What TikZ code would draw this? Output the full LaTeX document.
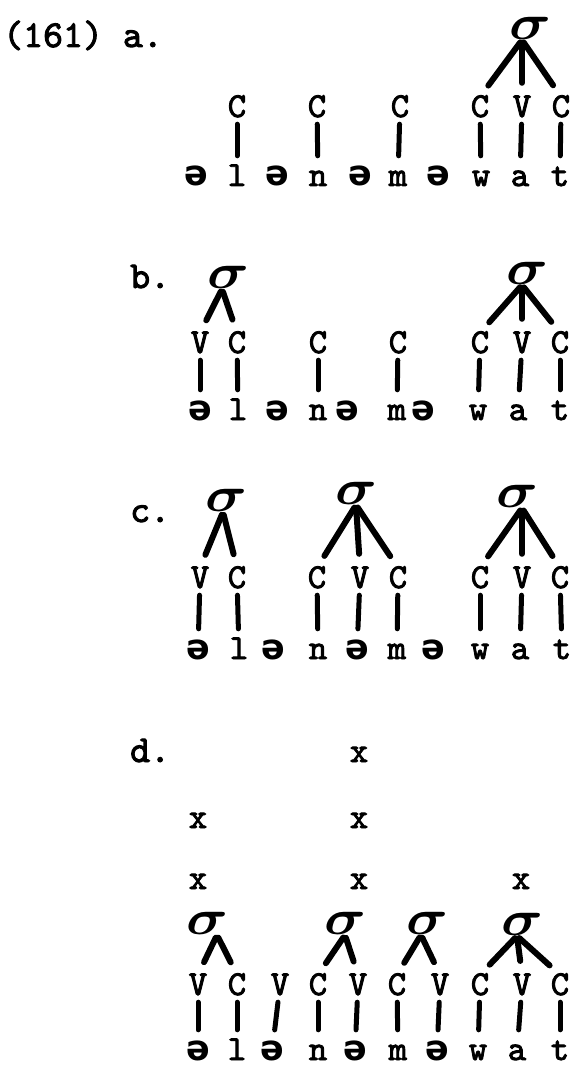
\documentclass[tikz,border=0pt]{standalone}
\usepackage{amsmath}
\usepackage{fontspec}
\usepackage{graphicx}
\newfontfamily\djfont{DejaVu Sans}
\newfontfamily\twfont{lmmono10-regular.otf}[FakeBold=2.5]
\newcommand\mysig{\scalebox{5.8}[5]{$\boldsymbol{\sigma}$}}
\tikzset{
  lab/.style={font=\twfont\bfseries\fontsize{38}{38}\selectfont, inner sep=0pt, anchor=base west},
  cv/.style={font=\twfont\bfseries\fontsize{35}{35}\selectfont, inner sep=0pt, anchor=base, text height=20pt, text depth=0pt},
  sg/.style={font=\twfont\bfseries\fontsize{35}{35}\selectfont, inner sep=0pt, anchor=base, text height=15pt, text depth=0pt},
  schwa/.style={sg, font=\djfont\bfseries\fontsize{35}{35}\selectfont},
  sig/.style={inner sep=0pt, anchor=south},
  tie/.style={line width=5pt, line cap=round, shorten <=7pt, shorten >=15pt},
  br/.style={line width=6pt, line cap=round, shorten <=3pt, shorten >=14pt}
}
\begin{document}
\begin{tikzpicture}[x=1pt,y=-1pt]
\useasboundingbox (0,0) rectangle (571,1067);
% labels
\node[lab] (la) at (3,47) {(161) a.};
\node[lab] (lb) at (130,288) {b.};
\node[lab] (lc) at (130,522) {c.};
\node[lab] (ld) at (130,762) {d.};
% ---------- panel a
\foreach \n/\x/\t in {a1/237/C,a2/317/C,a3/400/C,a4/480/C,a5/522/V,a6/561/C}
  \node[cv] (\n) at (\x,117) {\t};
\node[schwa] (aA) at (196,186) {ə};
\node[sg] (aB) at (237,186) {l};
\node[schwa] (aC) at (277,186) {ə};
\node[sg] (aD) at (318,186) {n};
\node[schwa] (aE) at (360,186) {ə};
\node[sg] (aF) at (398,186) {m};
\node[schwa] (aG) at (438,186) {ə};
\node[sg] (aH) at (481,186) {w};
\node[sg] (aI) at (520,186) {a};
\node[sg] (aJ) at (560,186) {t};
\foreach \u/\v in {a1/aB,a2/aD,a3/aF,a4/aH,a5/aI,a6/aJ}
  \draw[tie] (\u) -- (\v);
\node[sig] (sa) at (530,40) {\mysig};
\foreach \v in {a4,a5,a6} \draw[br] ([xshift=-8pt]sa.south) -- (\v.north);
% ---------- panel b
\foreach \n/\x/\t in {b1/200/V,b2/237/C,b3/318/C,b4/398/C,b5/480/C,b6/522/V,b7/560/C}
  \node[cv] (\n) at (\x,353) {\t};
\node[schwa] (bA) at (200,420) {ə};
\node[sg] (bB) at (238,420) {l};
\node[schwa] (bC) at (277,420) {ə};
\node[sg] (bD) at (318,420) {n};
\node[schwa] (bE) at (347,420) {ə};
\node[sg] (bF) at (397,420) {m};
\node[schwa] (bG) at (423,420) {ə};
\node[sg] (bH) at (478,420) {w};
\node[sg] (bI) at (518,420) {a};
\node[sg] (bJ) at (560,420) {t};
\foreach \u/\v in {b1/bA,b2/bB,b3/bD,b4/bF,b5/bH,b6/bI,b7/bJ}
  \draw[tie] (\u) -- (\v);
\node[sig] (sb1) at (228,289) {\mysig};
\node[sig] (sb2) at (527,285) {\mysig};
\foreach \v in {b1,b2} \draw[br] ([xshift=-6pt]sb1.south) -- (\v.north);
\foreach \v in {b5,b6,b7} \draw[br] ([xshift=-5pt]sb2.south) -- (\v.north);
% ---------- panel c
\foreach \n/\x/\t in {c1/200/V,c2/237/C,c3/317/C,c4/360/V,c5/398/C,c6/480/C,c7/522/V,c8/560/C}
  \node[cv] (\n) at (\x,588) {\t};
\node[schwa] (cA) at (198,659) {ə};
\node[sg] (cB) at (239,659) {l};
\node[schwa] (cC) at (273,659) {ə};
\node[sg] (cD) at (318,659) {n};
\node[schwa] (cE) at (357,659) {ə};
\node[sg] (cF) at (397,659) {m};
\node[schwa] (cG) at (433,659) {ə};
\node[sg] (cH) at (480,659) {w};
\node[sg] (cI) at (520,659) {a};
\node[sg] (cJ) at (562,659) {t};
\foreach \u/\v in {c1/cA,c2/cB,c3/cD,c4/cE,c5/cF,c6/cH,c7/cI,c8/cJ}
  \draw[tie] (\u) -- (\v);
\node[sig] (sc1) at (226,512) {\mysig};
\node[sig] (sc2) at (356,505) {\mysig};
\node[sig] (sc3) at (517,508) {\mysig};
\foreach \v in {c1,c2} \draw[br] ([xshift=-3pt]sc1.south) -- (\v.north);
\foreach \v in {c3,c4,c5} \draw[br] (sc2.south) -- (\v.north);
\foreach \v in {c6,c7,c8} \draw[br] ([xshift=5pt]sc3.south) -- (\v.north);
% ---------- panel d
\node[cv] (x1) at (359,762) {x};
\node[cv] (x2) at (198,828) {x};
\node[cv] (x3) at (359,828) {x};
\node[cv] (x4) at (198,889) {x};
\node[cv] (x5) at (359,889) {x};
\node[cv] (x6) at (521,889) {x};
\foreach \n/\x/\t in {d1/198/V,d2/237/C,d3/280/V,d4/318/C,d5/358/V,d6/397/C,d7/440/V,d8/480/C,d9/522/V,d10/560/C}
  \node[cv] (\n) at (\x,995) {\t};
\node[schwa] (dA) at (198,1060) {ə};
\node[sg] (dB) at (237,1060) {l};
\node[schwa] (dC) at (272,1060) {ə};
\node[sg] (dD) at (318,1060) {n};
\node[schwa] (dE) at (355,1060) {ə};
\node[sg] (dF) at (398,1060) {m};
\node[schwa] (dG) at (437,1060) {ə};
\node[sg] (dH) at (478,1060) {w};
\node[sg] (dI) at (517,1060) {a};
\node[sg] (dJ) at (560,1060) {t};
\foreach \u/\v in {d1/dA,d2/dB,d3/dC,d4/dD,d5/dE,d6/dF,d7/dG,d8/dH,d9/dI,d10/dJ}
  \draw[tie] (\u) -- (\v);
\node[sig] (sd1) at (207,935) {\mysig};
\node[sig] (sd2) at (345,935) {\mysig};
\node[sig] (sd3) at (427,935) {\mysig};
\node[sig] (sd4) at (522,936) {\mysig};
\foreach \v in {d1,d2} \draw[br] ([xshift=10pt]sd1.south) -- (\v.north);
\foreach \v in {d4,d5} \draw[br] (sd2.south) -- (\v.north);
\foreach \v in {d6,d7} \draw[br] ([xshift=-6pt]sd3.south) -- (\v.north);
\foreach \v in {d8,d9,d10} \draw[br] ([xshift=-5pt]sd4.south) -- (\v.north);
\end{tikzpicture}
\end{document}
